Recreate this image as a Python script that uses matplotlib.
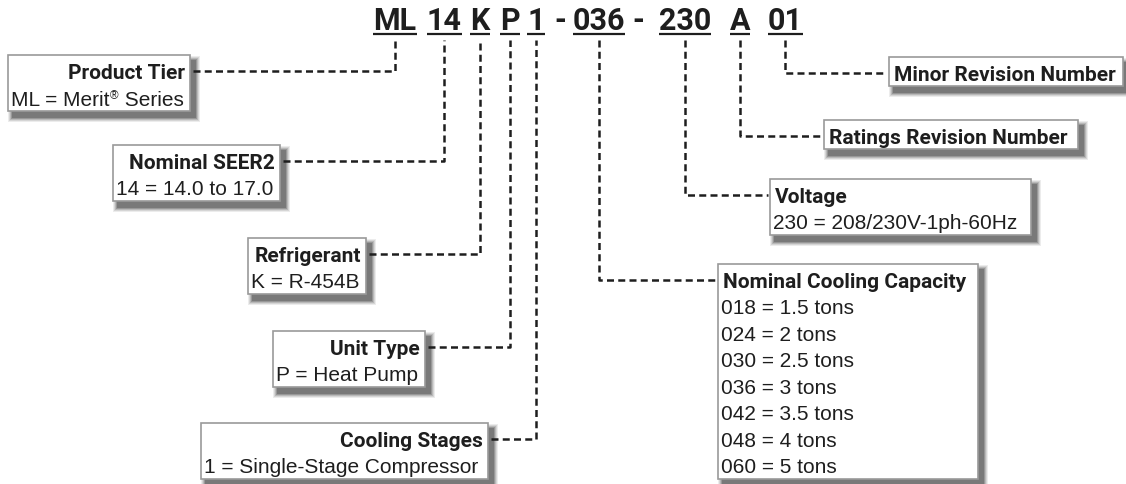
import matplotlib
matplotlib.use("Agg")
import matplotlib.pyplot as plt
from matplotlib.patches import Rectangle

plt.rcParams["font.family"] = ["Roboto", "DejaVu Sans"]

# model number segments and where each sits along the top
codes = ["ML", "14", "K", "P", "1", "-", "036", "-", "230", "A", "01"]
code_x = [395, 444, 480, 510, 536, 560, 599, 638, 685, 740, 785]

# explanation boxes
titles = ["Product Tier", "Nominal SEER2", "Refrigerant", "Unit Type", "Cooling Stages",
          "Nominal Cooling Capacity", "Voltage", "Ratings Revision Number", "Minor Revision Number"]
bodies = [
    ["ML = Merit\u00ae Series"],
    ["14 = 14.0 to 17.0"],
    ["K = R-454B"],
    ["P = Heat Pump"],
    ["1 = Single-Stage Compressor"],
    ["018 = 1.5 tons", "024 = 2 tons", "030 = 2.5 tons", "036 = 3 tons",
     "042 = 3.5 tons", "048 = 4 tons", "060 = 5 tons"],
    ["230 = 208/230V-1ph-60Hz"],
    [],
    [],
]
# which code each box points at
box_code = ["ML", "14", "K", "P", "1", "036", "230", "A", "01"]
box_side = ["left", "left", "left", "left", "left", "right", "right", "right", "right"]
box_left = [8, 113, 248, 273, 201, 718, 770, 824, 889]
box_right = [190, 280, 366, 425, 488, 978, 1031, 1078, 1123]
box_top = [56, 146, 239, 332, 424, 265, 180, 121, 58]

INK = "#1e1e1e"
ROW = 26.5
BODY_FONT = ["Liberation Sans", "DejaVu Sans"]

fig = plt.figure(figsize=(11.26, 4.85), dpi=100)
ax = fig.add_axes([0, 0, 1, 1])
ax.set_xlim(0, 1126)
ax.set_ylim(485, 0)
ax.axis("off")

renderer = fig.canvas.get_renderer()
inv = ax.transData.inverted()


def x_extent(t):
    bb = t.get_window_extent(renderer)
    (x0, _), (x1, _) = inv.transform([(bb.x0, 0), (bb.x1, 0)])
    return x0, x1


def body_text(x, y, s):
    # the registered mark is set small and raised, as in the original
    parts = s.split("\u00ae")
    for k, p in enumerate(parts):
        t = ax.text(x, y, p, ha="left", va="baseline", fontsize=15,
                    family=BODY_FONT, color=INK, zorder=3)
        x = x_extent(t)[1]
        if k < len(parts) - 1:
            t = ax.text(x + 0.5, y - 6, "\u00ae", ha="left", va="baseline", fontsize=8.5,
                        family=BODY_FONT, color=INK, zorder=3)
            x = x_extent(t)[1] + 0.5


# title code with underlines
for c, x in zip(codes, code_x):
    t = ax.text(x, 30, c, ha="center", va="baseline", fontsize=22,
                fontweight="bold", color=INK)
    if c != "-":
        x0, x1 = x_extent(t)
        ax.plot([x0, x1], [35, 35], color=INK, lw=1.6, solid_capstyle="butt")

dash = dict(color=INK, lw=1.8, linestyle=(0, (2.8, 1.7)))

for i, title in enumerate(titles):
    l, r, top = box_left[i], box_right[i], box_top[i]
    lines = bodies[i]
    base0 = top + 23
    bottom = base0 + ROW * len(lines) + 6
    # blurred drop shadow
    for k, a in enumerate([0.09, 0.12, 0.17, 0.24, 0.3]):
        g = 5 - k
        ax.add_patch(Rectangle((l + 5 - g, top + 6 - g), (r - l) + 2 * g, (bottom - top) + 2 * g,
                               facecolor="#333333", edgecolor="none", alpha=a, zorder=1))
    ax.add_patch(Rectangle((l, top), r - l, bottom - top, facecolor="white",
                           edgecolor="#9a9a9a", lw=1.2, zorder=2))
    if box_side[i] == "left":
        ax.text(r - 5, base0, title, ha="right", va="baseline", fontsize=15,
                fontweight="bold", color=INK, zorder=3)
    else:
        ax.text(l + 5, base0, title, ha="left", va="baseline", fontsize=15,
                fontweight="bold", color=INK, zorder=3)
    for j, ln in enumerate(lines):
        body_text(l + 3, base0 + ROW * (j + 1), ln)

    # dashed leader from box to its code
    cx = code_x[codes.index(box_code[i])]
    ly = base0 - 7
    if box_side[i] == "left":
        ax.plot([r + 3, cx, cx], [ly, ly, 41], zorder=2, **dash)
    else:
        ax.plot([cx, cx, l - 2], [41, ly, ly], zorder=2, **dash)

fig.savefig("out.png", dpi=100)
